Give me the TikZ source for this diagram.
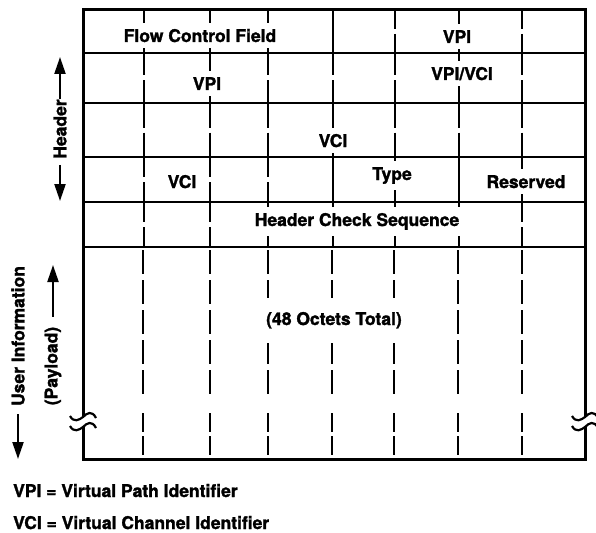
\documentclass[tikz,border=0pt]{standalone}
\usepackage{fontspec}
\setmainfont[BoldFeatures={FakeBold=1.6}]{TeX Gyre Heros}
\usetikzlibrary{arrows.meta}

\begin{document}
\begin{tikzpicture}[x=1pt,y=-1pt,
  lbl/.style={font=\fontsize{17.5}{20}\selectfont\bfseries, inner sep=0pt},
  cell/.style={lbl, fill=white, inner xsep=2pt, inner ysep=6pt, anchor=base},
  frame/.style={line width=3pt, line join=miter},
  rule/.style={line width=2.6pt},
  colline/.style={line width=2.2pt},
  squig/.style={line width=2.2pt},
  arr/.style={line width=2.2pt, -{Triangle[length=17pt,width=11pt]}},
]
\useasboundingbox (0,0) rectangle (596,532);

% dashed octet-bit columns in the five header rows
\foreach \t/\b in {10/53,53/103,103/157,157/202,202/247}{
  \foreach \x in {144,210,268,333,395,459,522}{
    \draw[colline] (\x,\t) -- (\x,{(\t+\b)/2-2.5})
                   (\x,{(\t+\b)/2+2.5}) -- (\x,\b);
  }
}
% dashed columns in the payload area, interrupted at the break
\foreach \x in {143,210,268,332,394,458,522}{
  \draw[colline, dash pattern=on 24pt off 6pt] (\x,250) -- (\x,394);
  \draw[colline] (\x,413) -- (\x,432) (\x,436) -- (\x,455);
}

% field labels
\node[cell] (fcf)  at (200,42)  {Flow Control Field};
\node[cell] (vpia) at (457,43)  {VPI};
\node[cell] (vpib) at (207,90)  {VPI};
\node[cell] (vpvc) at (462,80)  {VPI/VCI};
\node[cell] (vcia) at (333,147) {VCI};
\node[cell] (vcib) at (182,188) {VCI};
\node[cell] (type) at (392,180) {Type};
\node[cell] (resv) at (526,188) {Reserved};
\node[cell] (hcs)  at (357,226) {Header Check Sequence};
\node[cell, inner ysep=14pt] (tot) at (334,325) {(48 Octets Total)};

% row separators
\foreach \y in {53,103,157,202,247}{
  \draw[rule] (83,\y) -- (585,\y);
}
% solid field separators
\draw[rule] (333,10) -- (333,53);
\draw[rule] (333,157) -- (333,202);
\draw[rule] (459,157) -- (459,202);

% outer frame, broken at the payload
\draw[frame] (83,417) -- (83,10) -- (585,10) -- (585,417);
\draw[frame] (83,427) -- (83,459) -- (585,459) -- (585,427);

% break marks
\foreach \x in {83,585}{
  \foreach \y in {417,427}{
    \draw[squig, shift={(\x,\y)}] (-13,-1) .. controls (-9,6) and (-4,3) .. (0,0)
      .. controls (4,-4) and (9,-7) .. (13,1);
  }
}

% side labels with extent arrows
\node[lbl, rotate=90] (hdr) at (60,129) {Header};
\coordinate (hdrtop) at (60,57);
\coordinate (hdrbot) at (60,201);
\draw[arr] (hdr.east) -- (hdrtop);
\draw[arr, shorten <=6pt] (hdr.west) -- (hdrbot);

\node[lbl, rotate=90] (ui) at (18,336) {User Information};
\coordinate (uibot) at (18,459);
\draw[arr, shorten <=8pt] (ui.west) -- (uibot);

\node[lbl, rotate=90] (pl) at (53,366) {(Payload)};
\coordinate (pltop) at (53,265);
\draw[arr, shorten <=10pt] (pl.east) -- (pltop);

% legend
\node[lbl, anchor=base west] (vpidef) at (13,497) {VPI = Virtual Path Identifier};
\node[lbl, anchor=base west] (vcidef) at (13,529) {VCI = Virtual Channel Identifier};
\end{tikzpicture}
\end{document}
